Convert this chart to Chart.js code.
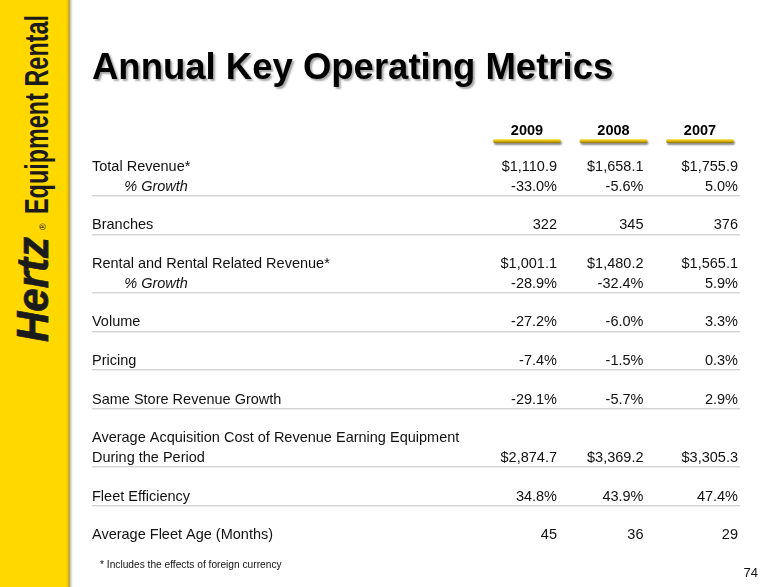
<!DOCTYPE html>
<html>
<head>
<meta charset="utf-8">
<script src="https://cdn.jsdelivr.net/npm/chart.js@4.4.0/dist/chart.umd.min.js"></script>
<style>
html, body { margin: 0; padding: 0; background: #fff; }
#slide { position: relative; width: 771px; height: 587px; overflow: hidden; font-family: "Liberation Sans", Arial, sans-serif; }
#side { position: absolute; left: 0; top: 0; width: 73px; height: 587px;
  background: linear-gradient(to right, #ffd800 0, #ffd800 66px, #e8c300 68px, #b39a2a 69px, #d8d8d8 71px, #fff 73px); }
.rot { position: absolute; white-space: nowrap; transform-origin: 0 0; line-height: 1; color: #1b1b1b; }
#hertz { font-size: 44px; font-weight: bold; font-style: italic; -webkit-text-stroke: 0.7px #1b1b1b; }
#reg { font-size: 9px; }
#eqr { font-size: 34px; font-weight: bold; }
#title { position: absolute; left: 92px; top: 49px; font-size: 36.5px; font-weight: bold; line-height: 1; color: #000;
  text-shadow: 2px 2px 2px rgba(0,0,0,0.35); white-space: nowrap; }
#note { position: absolute; left: 100px; top: 560px; font-size: 10.2px; line-height: 1; color: #111; white-space: nowrap; }
#page { position: absolute; right: 13px; top: 566px; font-size: 13px; line-height: 1; color: #111; }
canvas { position: absolute; left: 0; top: 0; }
</style>
</head>
<body>
<div id="slide">
  <div id="side"></div>
  <div class="rot" id="hertz">Hertz</div>
  <div class="rot" id="reg">®</div>
  <div class="rot" id="eqr">Equipment Rental</div>
  <canvas id="table" width="771" height="587"></canvas>
  <div id="title">Annual Key Operating Metrics</div>
  <div id="note">* Includes the effects of foreign currency</div>
  <div id="page">74</div>
</div>
<script>
"use strict";

// ------------------------------------------------------- //
// Data
// ------------------------------------------------------ //
var years = ["2009", "2008", "2007"];
var rowLabels = [
    "Total Revenue*", "% Growth", "",
    "Branches", "",
    "Rental and Rental Related Revenue*", "% Growth", "",
    "Volume", "",
    "Pricing", "",
    "Same Store Revenue Growth", "",
    "Average Acquisition Cost of Revenue Earning Equipment", "During the Period", "",
    "Fleet Efficiency", "",
    "Average Fleet Age (Months)"
];
var v2009 = [1110.9, -33.0, null, 322, null, 1001.1, -28.9, null, -27.2, null, -7.4, null, -29.1, null, null, 2874.7, null, 34.8, null, 45];
var v2008 = [1658.1, -5.6, null, 345, null, 1480.2, -32.4, null, -6.0, null, -1.5, null, -5.7, null, null, 3369.2, null, 43.9, null, 36];
var v2007 = [1755.9, 5.0, null, 376, null, 1565.1, 5.9, null, 3.3, null, 0.3, null, 2.9, null, null, 3305.3, null, 47.4, null, 29];
var rowUnits = ["$", "%", "", "", "", "$", "%", "", "%", "", "%", "", "%", "", "", "$", "", "%", "", ""];
var subRows = [1, 6];
var ruleAfter = [1, 3, 6, 8, 10, 12, 15, 17];

var series = [v2009, v2008, v2007];
var fontFamily = "'Liberation Sans', Arial, sans-serif";
var textColor = "#111";

function fmt(v, unit) {
    if (v === null) return "";
    if (unit === "$") return "$" + v.toLocaleString("en-US", { minimumFractionDigits: 1, maximumFractionDigits: 1 });
    if (unit === "%") return v.toFixed(1) + "%";
    return String(v);
}

// ------------------------------------------------------- //
// Sidebar logo (rotated text)
// ------------------------------------------------------ //
function placeRotated(id, startY, length, baselineX) {
    var el = document.getElementById(id);
    var fs = parseFloat(getComputedStyle(el).fontSize);
    var w = el.offsetWidth;
    el.style.left = (baselineX - 0.8465 * fs) + "px";
    el.style.top = startY + "px";
    el.style.transform = "rotate(-90deg) scaleX(" + (length / w) + ")";
}
placeRotated("hertz", 342, 105, 48);
placeRotated("reg", 229.5, 7, 46.5);
placeRotated("eqr", 214, 199, 48);

// ------------------------------------------------------- //
// Table cells, rules and year underlines
// ------------------------------------------------------ //
var colShift = [30, 30, 38];
var tablePlugin = {
    id: "tableCells",
    afterDraw: function (chart) {
        var ctx = chart.ctx;
        var x = chart.scales.x;
        var y = chart.scales.y;
        var lineEnd = x.getPixelForValue(years.length - 1) + 40;

        ctx.save();
        // separator rules
        ruleAfter.forEach(function (i) {
            var yy = Math.round(y.getPixelForValue(i) + 8.5);
            ctx.fillStyle = "#d4d4d4";
            ctx.fillRect(y.left, yy, lineEnd - y.left, 1);
            ctx.fillStyle = "#ebebeb";
            ctx.fillRect(y.left, yy + 1, lineEnd - y.left, 1);
        });

        // gold bars under the years
        years.forEach(function (yr, j) {
            var cx = x.getPixelForValue(j);
            ctx.save();
            ctx.shadowColor = "rgba(0,0,0,0.45)";
            ctx.shadowOffsetX = 1;
            ctx.shadowOffsetY = 2;
            ctx.shadowBlur = 2;
            var g = ctx.createLinearGradient(0, 139, 0, 143);
            g.addColorStop(0, "#f7e57a");
            g.addColorStop(0.5, "#e2b900");
            g.addColorStop(1, "#8f7000");
            ctx.fillStyle = g;
            ctx.beginPath();
            ctx.roundRect(cx - 34, 139, 68, 4, 2);
            ctx.fill();
            ctx.restore();
        });

        // values
        ctx.font = "14.5px " + fontFamily;
        ctx.fillStyle = textColor;
        ctx.textAlign = "right";
        ctx.textBaseline = "middle";
        series.forEach(function (vals, j) {
            var meta = chart.getDatasetMeta(j);
            meta.data.forEach(function (pt, i) {
                var s = fmt(vals[i], rowUnits[i]);
                if (s) ctx.fillText(s, pt.x + colShift[j], pt.y);
            });
        });
        ctx.restore();
    }
};

var TABLE = document.getElementById("table");
var myTable = new Chart(TABLE, {
    type: "scatter",
    plugins: [tablePlugin],
    data: {
        datasets: series.map(function (vals, j) {
            return {
                label: years[j],
                data: vals.map(function (v, i) {
                    return { x: years[j], y: rowLabels[i] };
                }),
                pointRadius: 0,
                pointHoverRadius: 0,
            };
        }),
    },
    options: {
        responsive: false,
        animation: false,
        events: [],
        layout: { padding: { left: 92, top: 117.6, right: 27.75, bottom: 42 } },
        plugins: { legend: { display: false }, tooltip: { enabled: false } },
        scales: {
            x: {
                type: "category",
                labels: years,
                position: "top",
                offset: true,
                grid: { display: false, drawTicks: false },
                border: { display: false },
                ticks: {
                    color: "#000",
                    padding: 18,
                    font: { family: fontFamily, size: 14.5, weight: "bold" },
                },
                afterFit: function (s) { s.height = 40; },
            },
            y: {
                type: "category",
                labels: rowLabels,
                offset: true,
                grid: { display: false, drawTicks: false },
                border: { display: false },
                ticks: {
                    autoSkip: false,
                    crossAlign: "far",
                    padding: 0,
                    color: textColor,
                    callback: function (val, i) {
                        return (subRows.indexOf(i) >= 0 ? "        " : "") + rowLabels[i];
                    },
                    font: function (c) {
                        return { family: fontFamily, size: 14.5, style: subRows.indexOf(c.index) >= 0 ? "italic" : "normal" };
                    },
                },
                afterFit: function (s) { s.width = 391.75; },
            },
        },
    },
});
</script>
</body>
</html>
